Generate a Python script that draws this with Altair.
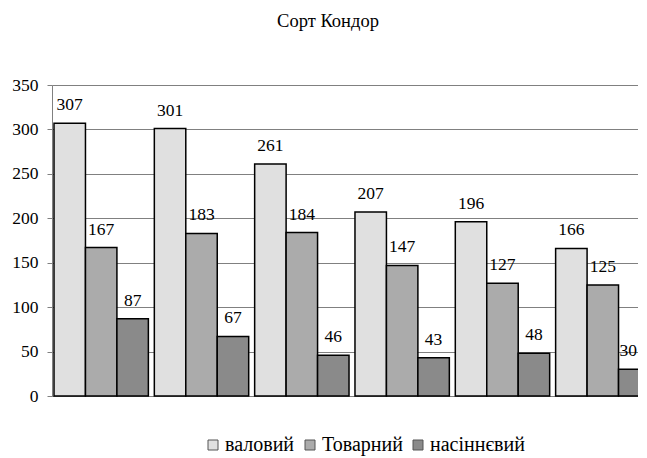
import altair as alt
import pandas as pd

groups = ["1", "2", "3", "4", "5", "6"]
series = ["валовий", "Товарний", "насіннєвий"]
valovyi = [307, 301, 261, 207, 196, 166]
tovarnyi = [167, 183, 184, 147, 127, 125]
nasinnievyi = [87, 67, 46, 43, 48, 30]
colors = ["#e0e0e0", "#ababab", "#8a8a8a"]

rows = []
for s, vals in zip(series, [valovyi, tovarnyi, nasinnievyi]):
    for g, v in zip(groups, vals):
        rows.append({"group": g, "series": s, "value": v})
df = pd.DataFrame(rows)

FONT = "'Times New Roman', 'Liberation Serif', 'DejaVu Serif', serif"

base = alt.Chart(df).encode(
    x=alt.X("group:N", sort=groups,
            axis=alt.Axis(labels=False, ticks=False, title=None, domainColor="#808080"),
            scale=alt.Scale(paddingInner=0.0594, paddingOuter=0.02, round=False)),
    xOffset=alt.XOffset("series:N", sort=series,
                        scale=alt.Scale(domain=series, paddingInner=0, paddingOuter=0)),
    y=alt.Y("value:Q", scale=alt.Scale(domain=[0, 350]),
            axis=alt.Axis(values=list(range(0, 351, 50)), title=None, tickSize=5,
                          labelPadding=9, grid=True, gridColor="#808080",
                          domainColor="#808080", tickColor="#808080",
                          labelFontSize=17.5, labelColor="black", labelFont=FONT)),
)

bars = base.mark_bar(stroke="black", strokeWidth=1.5).encode(
    color=alt.Color("series:N", sort=series,
                    scale=alt.Scale(domain=series, range=colors),
                    legend=alt.Legend(orient="none", legendX=151, legendY=350,
                                      direction="horizontal", title=None,
                                      symbolType="square", symbolSize=100,
                                      symbolStrokeColor="#555555", symbolStrokeWidth=1,
                                      labelFontSize=20, labelOffset=2, columnPadding=5,
                                      labelFont=FONT, labelColor="black"))
)

last_cond = f"datum.group == '{groups[-1]}' && datum.series == '{series[-1]}'"

text = base.mark_text(baseline="alphabetic", dy=-13, fontSize=17.5, font=FONT,
                      color="black").encode(text="value:Q").transform_filter(f"!({last_cond})")

text_last = base.mark_text(baseline="alphabetic", dy=-13, dx=-6, fontSize=17.5, font=FONT,
                           color="black").encode(text="value:Q").transform_filter(last_cond)

chart = (bars + text + text_last).properties(
    width=600, height=311,
    autosize=alt.AutoSizeParams(type="none"),
    padding={"left": 44, "top": 77, "right": -14, "bottom": 60},
    title=alt.TitleParams("Сорт Кондор", fontSize=18.5, fontWeight="normal", font=FONT,
                          offset=46, dx=-24, anchor="middle", color="black"),
).configure_view(stroke=None).configure(font=FONT)

chart.save("out.html", embed_options={"renderer": "svg", "actions": False})
